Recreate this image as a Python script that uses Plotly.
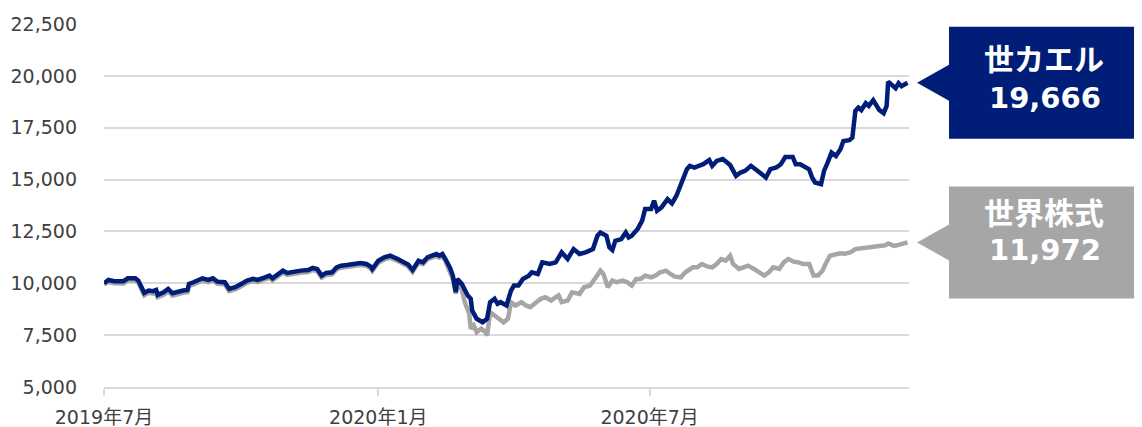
import plotly.graph_objects as go

# ---- data ----
navy_name = "世カエル"
gray_name = "世界株式"

navy_dates = [
    "2019-07-01", "2019-07-04", "2019-07-08", "2019-07-14", "2019-07-17", "2019-07-22", "2019-07-24",
    "2019-07-26", "2019-07-28", "2019-07-31", "2019-08-03", "2019-08-05", "2019-08-06", "2019-08-10",
    "2019-08-13", "2019-08-16", "2019-08-20", "2019-08-23", "2019-08-26", "2019-08-27", "2019-08-30",
    "2019-09-02", "2019-09-05", "2019-09-09", "2019-09-12", "2019-09-15", "2019-09-20", "2019-09-23",
    "2019-09-27", "2019-10-01", "2019-10-05", "2019-10-09", "2019-10-12", "2019-10-17", "2019-10-20",
    "2019-10-22", "2019-10-26", "2019-10-29", "2019-11-01", "2019-11-06", "2019-11-10", "2019-11-15",
    "2019-11-18", "2019-11-21", "2019-11-24", "2019-11-27", "2019-12-01", "2019-12-04", "2019-12-07",
    "2019-12-11", "2019-12-16", "2019-12-20", "2019-12-24", "2019-12-27", "2019-12-28", "2020-01-01",
    "2020-01-05", "2020-01-09", "2020-01-14", "2020-01-17", "2020-01-21", "2020-01-24", "2020-01-26",
    "2020-01-28", "2020-01-31", "2020-02-03", "2020-02-06", "2020-02-09", "2020-02-11", "2020-02-13",
    "2020-02-15", "2020-02-18", "2020-02-20", "2020-02-22", "2020-02-23", "2020-02-26", "2020-03-01",
    "2020-03-03", "2020-03-04", "2020-03-07", "2020-03-11", "2020-03-14", "2020-03-16", "2020-03-19",
    "2020-03-21", "2020-03-23", "2020-03-27", "2020-03-30", "2020-04-01", "2020-04-04", "2020-04-07",
    "2020-04-11", "2020-04-13", "2020-04-17", "2020-04-20", "2020-04-25", "2020-04-29", "2020-05-03",
    "2020-05-07", "2020-05-11", "2020-05-15", "2020-05-19", "2020-05-24", "2020-05-27", "2020-05-29",
    "2020-06-02", "2020-06-04", "2020-06-06", "2020-06-08", "2020-06-12", "2020-06-15", "2020-06-17",
    "2020-06-19", "2020-06-23", "2020-06-26", "2020-06-28", "2020-07-02", "2020-07-04", "2020-07-06",
    "2020-07-09", "2020-07-13", "2020-07-16", "2020-07-19", "2020-07-22", "2020-07-24", "2020-07-26",
    "2020-07-28", "2020-07-31", "2020-08-03", "2020-08-06", "2020-08-10", "2020-08-12", "2020-08-15",
    "2020-08-19", "2020-08-22", "2020-08-24", "2020-08-28", "2020-08-31", "2020-09-03", "2020-09-07",
    "2020-09-10", "2020-09-13", "2020-09-17", "2020-09-20", "2020-09-24", "2020-09-27", "2020-09-30",
    "2020-10-05", "2020-10-07", "2020-10-10", "2020-10-12", "2020-10-16", "2020-10-18", "2020-10-20",
    "2020-10-24", "2020-10-26", "2020-10-28", "2020-10-31", "2020-11-03", "2020-11-06", "2020-11-08",
    "2020-11-12", "2020-11-14", "2020-11-16", "2020-11-18", "2020-11-20", "2020-11-23", "2020-11-25",
    "2020-11-28", "2020-12-02", "2020-12-05", "2020-12-07", "2020-12-08", "2020-12-11", "2020-12-13",
    "2020-12-15", "2020-12-17", "2020-12-21",
]
navy_values = [
    10000, 10160, 10100, 10100, 10240, 10240, 10130,
    9810, 9540, 9650, 9620, 9680, 9440, 9570,
    9730, 9520, 9620, 9650, 9680, 9970, 10050,
    10130, 10240, 10160, 10240, 10080, 10050, 9730,
    9810, 9970, 10130, 10210, 10160, 10290, 10370,
    10240, 10480, 10610, 10500, 10580, 10610, 10640,
    10740, 10690, 10370, 10500, 10530, 10770, 10850,
    10880, 10930, 10980, 10930, 10800, 10690, 11090,
    11250, 11330, 11170, 11060, 10900, 10640, 10850,
    11090, 11010, 11250, 11330, 11410, 11330, 11410,
    11170, 10770, 10370, 9570, 10210, 9970, 9410,
    9250, 8690, 8290, 8120, 8290, 9090, 9250,
    9010, 9090, 8930, 9650, 9890, 9890, 10210,
    10370, 10530, 10450, 11010, 10930, 11010, 11490,
    11170, 11650, 11410, 11490, 11650, 12290, 12450,
    12290, 11730, 11600, 12050, 12130, 12450, 12210,
    12290, 12620, 13020, 13580, 13580, 13980, 13500,
    13660, 14060, 13850, 14220, 14780, 15020, 15500,
    15660, 15580, 15660, 15740, 15940, 15660, 15900,
    15990, 15820, 15700, 15180, 15340, 15420, 15660,
    15500, 15340, 15100, 15500, 15580, 15740, 16090,
    16090, 15740, 15740, 15660, 15500, 15100, 14860,
    14780, 15420, 15740, 16300, 16140, 16460, 16860,
    16900, 17020, 18310, 18470, 18350, 18680, 18550,
    18830, 18360, 18200, 18550, 19720, 19510, 19400,
    19650, 19500, 19666,
]

gray_dates = [
    "2019-07-01", "2019-07-04", "2019-07-08", "2019-07-14", "2019-07-17", "2019-07-22", "2019-07-24",
    "2019-07-26", "2019-07-28", "2019-07-31", "2019-08-03", "2019-08-05", "2019-08-06", "2019-08-10",
    "2019-08-13", "2019-08-16", "2019-08-20", "2019-08-23", "2019-08-26", "2019-08-27", "2019-08-30",
    "2019-09-02", "2019-09-05", "2019-09-09", "2019-09-12", "2019-09-15", "2019-09-20", "2019-09-23",
    "2019-09-27", "2019-10-01", "2019-10-05", "2019-10-09", "2019-10-12", "2019-10-17", "2019-10-20",
    "2019-10-22", "2019-10-26", "2019-10-29", "2019-11-01", "2019-11-06", "2019-11-10", "2019-11-15",
    "2019-11-18", "2019-11-21", "2019-11-24", "2019-11-27", "2019-12-01", "2019-12-04", "2019-12-07",
    "2019-12-11", "2019-12-16", "2019-12-20", "2019-12-24", "2019-12-27", "2019-12-28", "2020-01-01",
    "2020-01-05", "2020-01-09", "2020-01-14", "2020-01-17", "2020-01-21", "2020-01-24", "2020-01-26",
    "2020-01-28", "2020-01-31", "2020-02-03", "2020-02-06", "2020-02-09", "2020-02-11", "2020-02-13",
    "2020-02-15", "2020-02-18", "2020-02-20", "2020-02-22", "2020-02-23", "2020-02-26", "2020-02-28",
    "2020-03-02", "2020-03-03", "2020-03-05", "2020-03-07", "2020-03-10", "2020-03-13", "2020-03-14",
    "2020-03-16", "2020-03-19", "2020-03-22", "2020-03-25", "2020-03-28", "2020-03-30", "2020-04-02",
    "2020-04-06", "2020-04-09", "2020-04-12", "2020-04-16", "2020-04-19", "2020-04-22", "2020-04-26",
    "2020-04-29", "2020-05-01", "2020-05-03", "2020-05-07", "2020-05-10", "2020-05-15", "2020-05-18",
    "2020-05-22", "2020-05-26", "2020-05-29", "2020-05-31", "2020-06-03", "2020-06-06", "2020-06-09",
    "2020-06-13", "2020-06-16", "2020-06-19", "2020-06-22", "2020-06-25", "2020-06-28", "2020-07-02",
    "2020-07-05", "2020-07-08", "2020-07-12", "2020-07-15", "2020-07-18", "2020-07-22", "2020-07-25",
    "2020-07-30", "2020-08-02", "2020-08-05", "2020-08-09", "2020-08-12", "2020-08-15", "2020-08-18",
    "2020-08-21", "2020-08-24", "2020-08-26", "2020-08-30", "2020-09-02", "2020-09-05", "2020-09-09",
    "2020-09-12", "2020-09-16", "2020-09-19", "2020-09-22", "2020-09-26", "2020-09-29", "2020-10-02",
    "2020-10-06", "2020-10-09", "2020-10-12", "2020-10-16", "2020-10-19", "2020-10-22", "2020-10-25",
    "2020-10-27", "2020-10-30", "2020-11-03", "2020-11-06", "2020-11-09", "2020-11-13", "2020-11-16",
    "2020-11-19", "2020-11-23", "2020-11-26", "2020-11-29", "2020-12-03", "2020-12-06", "2020-12-08",
    "2020-12-12", "2020-12-15", "2020-12-18", "2020-12-21",
]
gray_values = [
    9950, 10060, 10000, 9990, 10130, 10140, 10040,
    9720, 9420, 9540, 9500, 9580, 9330, 9450,
    9620, 9400, 9500, 9540, 9570, 9860, 9940,
    10020, 10130, 10060, 10140, 9980, 9950, 9620,
    9700, 9860, 10020, 10110, 10060, 10190, 10270,
    10140, 10380, 10510, 10400, 10480, 10510, 10540,
    10640, 10590, 10280, 10400, 10430, 10670, 10750,
    10780, 10830, 10880, 10840, 10710, 10600, 10990,
    11150, 11230, 11080, 10970, 10810, 10550, 10760,
    11000, 10920, 11160, 11240, 11320, 11240, 11320,
    11080, 10600, 10200, 9500, 9950, 9700, 9090,
    8530, 7810, 7970, 7640, 7810, 7640, 7480,
    8610, 8450, 8290, 8120, 8290, 9090, 8930,
    9090, 8930, 8850, 9090, 9250, 9330, 9170,
    9330, 9410, 9090, 9170, 9570, 9490, 9810,
    9890, 10290, 10610, 10450, 9810, 10130, 10050,
    10130, 10050, 9890, 10210, 10210, 10370, 10290,
    10370, 10530, 10610, 10450, 10320, 10290, 10530,
    10770, 10770, 10930, 10800, 10770, 10930, 11170,
    11090, 11330, 10930, 10690, 10770, 10850, 10690,
    10530, 10370, 10530, 10770, 10690, 11010, 11170,
    11040, 11010, 10930, 10930, 10370, 10370, 10610,
    10930, 11330, 11400, 11450, 11420, 11500, 11650,
    11680, 11750, 11780, 11760, 11850, 11830, 11920,
    11800, 11850, 11910, 11972,
]

x_tick_vals = ["2019-07-01", "2020-01-01", "2020-07-01"]
x_tick_text = ["2019年7月", "2020年1月", "2020年7月"]
y_tick_vals = [5000, 7500, 10000, 12500, 15000, 17500, 20000, 22500]
y_range = [5000, 22500]
x_range = ["2019-07-01", "2020-12-22"]

NAVY = "#001e78"
GRAY = "#a6a6a6"
FONT = "DejaVu Sans, Noto Sans CJK JP, sans-serif"

fig = go.Figure()
fig.add_trace(go.Scatter(x=gray_dates, y=gray_values, mode="lines", name=gray_name,
                         line=dict(color=GRAY, width=4.5), hoverinfo="skip"))
fig.add_trace(go.Scatter(x=navy_dates, y=navy_values, mode="lines", name=navy_name,
                         line=dict(color=NAVY, width=4.5), hoverinfo="skip"))

# page body has an 8px margin; figure geometry compensates for it
OFF = 8
W, H = 1134, 419
ml, mr, mt, mb = 96, 233, 16, 40
plot_w = W - ml - mr
plot_h = H - mt - mb
units_per_px = (y_range[1] - y_range[0]) / plot_h


def px2paper_x(px):
    return (px - OFF - ml) / plot_w


def callout(last_value, color, label, dy_label, dy_value):
    tip_x = px2paper_x(917)
    left = px2paper_x(949)
    right = px2paper_x(1160)
    top = last_value + 56 * units_per_px
    bot = last_value - 56 * units_per_px
    b_hi = last_value + 18 * units_per_px
    b_lo = last_value - 18 * units_per_px
    path = (f"M {tip_x} {last_value} L {left} {b_hi} L {left} {top} L {right} {top} "
            f"L {right} {bot} L {left} {bot} L {left} {b_lo} Z")
    fig.add_shape(type="path", path=path, xref="paper", yref="y",
                  fillcolor=color, line=dict(width=0), layer="above")
    fig.add_annotation(x=px2paper_x(1044), y=last_value, xref="paper", yref="y",
                       text=f"<b>{label}</b>", showarrow=False, yshift=-dy_label,
                       font=dict(family=FONT, size=30, color="white"),
                       xanchor="center", yanchor="middle")
    fig.add_annotation(x=px2paper_x(1045), y=last_value, xref="paper", yref="y",
                       text=f"<b>{last_value:,}</b>", showarrow=False, yshift=-dy_value,
                       font=dict(family=FONT, size=29, color="white"),
                       xanchor="center", yanchor="middle")


callout(navy_values[-1], NAVY, navy_name, -23, 15)
callout(gray_values[-1], GRAY, gray_name, -29, 8)

fig.update_layout(
    width=W, height=H,
    margin=dict(l=ml, r=mr, t=mt, b=mb, autoexpand=False),
    paper_bgcolor="white", plot_bgcolor="white",
    showlegend=False,
    font=dict(family=FONT, size=19, color="#404040"),
    xaxis=dict(type="date", range=x_range, tickvals=x_tick_vals, ticktext=x_tick_text,
               showgrid=False, showline=True, linecolor="#d9d9d9", linewidth=2,
               ticks="outside", ticklen=7, tickwidth=1.5, tickcolor="#d9d9d9",
               ticklabelstandoff=5, automargin=False,
               tickfont=dict(family=FONT, size=19, color="#404040"), zeroline=False),
    yaxis=dict(range=y_range, tickvals=y_tick_vals, tickformat=",d",
               showgrid=True, gridcolor="#d9d9d9", gridwidth=2,
               showline=False, zeroline=False, ticks="",
               ticklabelstandoff=26, automargin=False,
               tickfont=dict(family=FONT, size=19, color="#404040")),
)

fig.write_html("out.html")
